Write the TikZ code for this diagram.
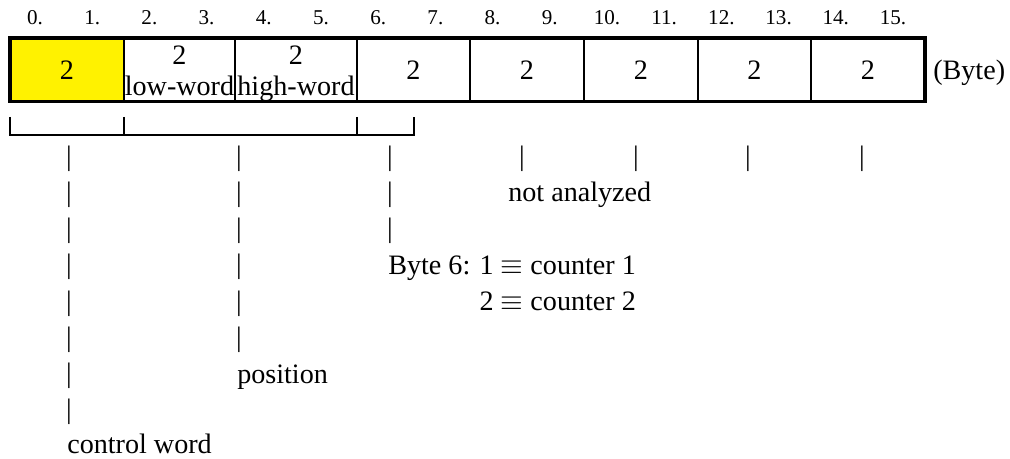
\documentclass[tikz,border=0pt]{standalone}
\usepackage{fontspec}
\setmainfont{Liberation Serif}
\usepackage{tikz}
\usetikzlibrary{positioning}

\begin{document}
\begin{tikzpicture}[x=0.025cm,y=-0.025cm,
        cell/.style={draw,line width=1.1pt,inner sep=0pt,outer sep=0pt,minimum height=1.5875cm,font=\fontsize{20}{22}\selectfont},
        ctrl/.style={cell,fill=yellow},
        txt/.style={inner sep=0pt,font=\fontsize{20}{22}\selectfont},
        idx/.style={inner sep=0pt,font=\fontsize{15}{17}\selectfont},
        bar/.style={txt,anchor=base},
        frame/.style={draw,line width=2.8pt},
        brace/.style={draw,line width=1pt}]
        \useasboundingbox (0,0) rectangle (1010,459);

        % byte numbers
        \foreach \i in {0,...,15}
            \node[idx] (n\i) at ({35+57.2*\i},18) {\i.};

        % the frame
        \node[ctrl,minimum width=2.85cm]  (c0) at (67,69.75) {2};
        \node[cell,minimum width=2.775cm] (c1) at (179.5,69.75) {};
        \node[cell,minimum width=3.05cm]  (c2) at (296,69.75) {};
        \node[cell,minimum width=2.825cm] (c3) at (413.5,69.75) {2};
        \node[cell,minimum width=2.85cm]  (c4) at (527,69.75) {2};
        \node[cell,minimum width=2.85cm]  (c5) at (641,69.75) {2};
        \node[cell,minimum width=2.825cm] (c6) at (754.5,69.75) {2};
        \node[cell,minimum width=2.85cm]  (c7) at (868,69.75) {2};
        \draw[frame] (c0.north west) rectangle (c7.south east);

        \node[txt,anchor=base] (lo)  at (179.5,65) {2};
        \node[txt,anchor=base] (low) at (179.5,96) {low-word};
        \node[txt,anchor=base] (hi)  at (296,65) {2};
        \node[txt,anchor=base] (high) at (296,96) {high-word};
        \node[txt,anchor=base west] (unit) at (933,79.6) {(Byte)};

        % brackets
        \coordinate (t0) at (10,117);
        \coordinate (t1) at (124,117);
        \coordinate (t2) at (357,117);
        \coordinate (t3) at (414,117);
        \draw[brace] (t0) -- ++(0,18) -| (t3);
        \draw[brace] (t1) -- ++(0,18);
        \draw[brace] (t2) -- ++(0,18);

        % leader bars
        \foreach \k in {0,...,7}
            \node[bar] (cw\k) at (69,{165.2+36.25*\k}) {|};
        \foreach \k in {0,...,5}
            \node[bar] (ps\k) at (239,{165.2+36.25*\k}) {|};
        \foreach \k in {0,...,2}
            \node[bar] (bs\k) at (390,{165.2+36.25*\k}) {|};
        \foreach \x [count=\j] in {522,636,748,862}
            \node[bar] (na\j) at (\x,165.2) {|};

        % descriptions
        \node[txt,anchor=base west] (cw) at (67,453) {control word};
        \node[txt,anchor=base west] (pos) at (237,383) {position};
        \node[txt,anchor=base west] (na) at (508,201) {not analyzed};
        \node[txt,anchor=base west] (b6) at (388,274) {Byte 6: 1 $\equiv$ counter 1};
        \node[txt,anchor=base west] (b6b) at (388,310) {\phantom{Byte 6: }2 $\equiv$ counter 2};
    \end{tikzpicture}
\end{document}
